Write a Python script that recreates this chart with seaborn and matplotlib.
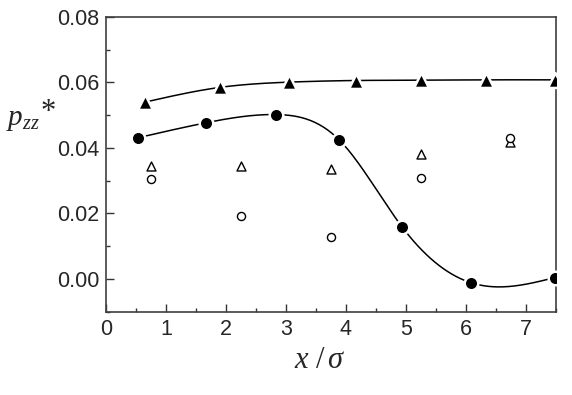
import numpy as np
import pandas as pd
import matplotlib
matplotlib.use("Agg")
import matplotlib.pyplot as plt
import seaborn as sns
from matplotlib.ticker import MultipleLocator, FormatStrFormatter

# filled symbols (with smooth curves)
x_tri_f = [0.65, 1.90, 3.05, 4.16, 5.25, 6.34, 7.48]
y_tri_f = [0.0540, 0.0585, 0.0601, 0.0606, 0.0607, 0.0608, 0.0608]
x_circ_f = [0.53, 1.67, 2.83, 3.89, 4.93, 6.09, 7.48]
y_circ_f = [0.0431, 0.0477, 0.0502, 0.0424, 0.0160, -0.0012, 0.0004]

# open symbols
x_open = [0.75, 2.25, 3.75, 5.25, 6.73]
y_tri_o = [0.0345, 0.0345, 0.0335, 0.0383, 0.0418]
y_circ_o = [0.0305, 0.0192, 0.0128, 0.0307, 0.0429]


def natural_spline(x, y, n=300):
    x = np.asarray(x, float); y = np.asarray(y, float)
    k = len(x); h = np.diff(x)
    A = np.zeros((k, k)); r = np.zeros(k)
    A[0, 0] = A[-1, -1] = 1
    for i in range(1, k - 1):
        A[i, i - 1] = h[i - 1]
        A[i, i] = 2 * (h[i - 1] + h[i])
        A[i, i + 1] = h[i]
        r[i] = 3 * ((y[i + 1] - y[i]) / h[i] - (y[i] - y[i - 1]) / h[i - 1])
    c = np.linalg.solve(A, r)
    xs = np.linspace(x[0], x[-1], n)
    idx = np.clip(np.searchsorted(x, xs) - 1, 0, k - 2)
    dx = xs - x[idx]
    b = (y[idx + 1] - y[idx]) / h[idx] - h[idx] * (2 * c[idx] + c[idx + 1]) / 3
    d = (c[idx + 1] - c[idx]) / (3 * h[idx])
    return xs, y[idx] + b * dx + c[idx] * dx ** 2 + d * dx ** 3


sns.set_style("ticks")
plt.rcParams["font.family"] = ["Liberation Sans", "DejaVu Sans"]
plt.rcParams["mathtext.fontset"] = "custom"
plt.rcParams["mathtext.it"] = "Liberation Serif:italic"
plt.rcParams["mathtext.rm"] = "Liberation Serif"

fig = plt.figure(figsize=(5.72, 3.95), dpi=100)
ax = fig.add_axes([0.1853, 0.211, 0.7867, 0.746])

for xv, yv in [(x_tri_f, y_tri_f), (x_circ_f, y_circ_f)]:
    xs, ys = natural_spline(xv, yv)
    sns.lineplot(x=xs, y=ys, ax=ax, color="black", linewidth=1.1, sort=False)

sns.scatterplot(x=x_tri_f, y=y_tri_f, ax=ax, marker="^", s=115, color="black",
                edgecolor="white", linewidth=1.8, zorder=3)
sns.scatterplot(x=x_circ_f, y=y_circ_f, ax=ax, marker="o", s=95, color="black",
                edgecolor="white", linewidth=1.8, zorder=3)
sns.scatterplot(x=x_open, y=y_tri_o, ax=ax, marker="^", s=42, facecolor="white",
                edgecolor="black", linewidth=1.0, zorder=3)
sns.scatterplot(x=x_open, y=y_circ_o, ax=ax, marker="o", s=34, facecolor="white",
                edgecolor="black", linewidth=1.0, zorder=3)

ax.set_xlim(0, 7.5)
ax.set_ylim(-0.01, 0.08)
ax.xaxis.set_major_locator(MultipleLocator(1))
ax.xaxis.set_minor_locator(MultipleLocator(0.5))
ax.yaxis.set_major_locator(MultipleLocator(0.02))
ax.yaxis.set_minor_locator(MultipleLocator(0.01))
ax.yaxis.set_major_formatter(FormatStrFormatter("%.2f"))
ax.tick_params(which="both", direction="in", color="#333333", width=1,
               labelsize=15.5, pad=5)
ax.tick_params(which="major", length=6)
ax.tick_params(which="minor", length=3)
for s in ax.spines.values():
    s.set_visible(True)
    s.set_color("#404040")
    s.set_linewidth(1.2)

ax.set_xlabel("")
ax.set_ylabel("")
ax.text(0.476, -0.19, r"$x\ /\,\sigma$", transform=ax.transAxes, fontsize=22,
        ha="center", va="baseline")
ax.text(-0.222, 0.632, r"$p_{zz}$", transform=ax.transAxes, fontsize=21,
        ha="left", va="baseline")
ax.text(-0.146, 0.675, "*", transform=ax.transAxes, fontsize=22,
        family="Liberation Serif", ha="left", va="center")

fig.savefig("out.png", dpi=100)
